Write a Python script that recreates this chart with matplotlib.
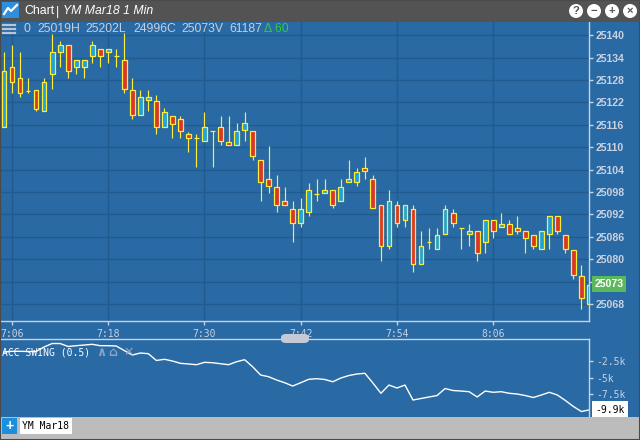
import numpy as np
import matplotlib
matplotlib.use('Agg')
import matplotlib.pyplot as plt
from matplotlib.patches import Rectangle, FancyBboxPatch, Ellipse
from matplotlib.lines import Line2D

plt.rcParams['font.family'] = ['Liberation Sans', 'DejaVu Sans']

# one-minute bars from 7:05 to 8:18
first_bar = '7:05'
opens = [25115.5, 25131.4, 25128.4, 25125.1, 25125.2, 25119.6, 25129.5, 25135.4, 25137.3, 25131.4,
         25131.4, 25134.3, 25136.2, 25135.4, 25134.4, 25133.2, 25125.2, 25118.5, 25122.5, 25122.3,
         25115.5, 25118.3, 25117.5, 25113.4, 25112.4, 25111.6, 25114.3, 25115.3, 25111.3, 25110.5,
         25114.5, 25114.3, 25106.5, 25101.4, 25099.3, 25095.5, 25093.4, 25089.7, 25092.6, 25097.4,
         25097.7, 25098.5, 25095.5, 25100.6, 25100.6, 25104.4, 25101.4, 25094.5, 25083.5, 25094.5,
         25090.5, 25093.4, 25078.7, 25084.6, 25082.7, 25086.7, 25092.3, 25088.3, 25086.7, 25087.5,
         25084.6, 25090.5, 25088.6, 25089.4, 25088.3, 25087.5, 25086.4, 25082.7, 25086.7, 25091.5,
         25086.4, 25082.4, 25075.5, 25068.0]
highs = [25135.4, 25137.3, 25135.4, 25128.4, 25125.2, 25128.4, 25140.3, 25138.4, 25137.3, 25133.2,
         25133.2, 25138.4, 25136.2, 25136.2, 25136.2, 25140.5, 25128.4, 25125.2, 25125.2, 25124.0,
         25120.4, 25118.3, 25118.3, 25114.1, 25113.4, 25119.3, 25114.3, 25118.3, 25118.3, 25116.4,
         25119.3, 25114.3, 25106.5, 25110.2, 25102.5, 25099.3, 25095.5, 25096.3, 25100.3, 25101.4,
         25101.4, 25098.5, 25101.4, 25106.5, 25104.4, 25107.3, 25102.5, 25094.5, 25098.5, 25095.5,
         25094.5, 25094.5, 25087.5, 25088.3, 25088.3, 25094.5, 25093.4, 25088.3, 25089.4, 25087.5,
         25090.5, 25090.5, 25092.3, 25090.5, 25091.5, 25087.5, 25086.4, 25087.5, 25091.5, 25091.5,
         25086.4, 25082.4, 25078.4, 25073.6]
lows = [25115.5, 25124.4, 25123.3, 25124.4, 25119.6, 25119.6, 25125.5, 25131.4, 25128.4, 25129.5,
        25128.4, 25132.4, 25131.4, 25132.4, 25131.4, 25124.4, 25117.5, 25118.5, 25119.6, 25113.4,
        25115.5, 25112.4, 25112.4, 25108.6, 25104.6, 25111.6, 25104.6, 25110.5, 25110.5, 25110.5,
        25111.6, 25106.5, 25095.5, 25097.7, 25092.6, 25094.5, 25084.6, 25088.6, 25091.5, 25095.5,
        25097.7, 25093.7, 25095.5, 25100.6, 25099.5, 25101.4, 25093.7, 25079.5, 25082.7, 25088.6,
        25088.6, 25076.5, 25078.7, 25082.7, 25082.7, 25086.7, 25088.6, 25082.7, 25083.5, 25079.5,
        25081.6, 25085.6, 25088.6, 25086.7, 25086.7, 25081.6, 25082.7, 25082.7, 25082.7, 25086.7,
        25081.6, 25074.7, 25066.7, 25067.8]
closes = [25130.3, 25127.4, 25124.4, 25125.1, 25120.3, 25127.4, 25135.4, 25137.3, 25130.5, 25133.2,
          25133.2, 25137.3, 25134.3, 25136.2, 25134.4, 25125.5, 25118.5, 25123.3, 25123.3, 25115.5,
          25119.3, 25116.3, 25114.4, 25112.4, 25112.4, 25115.3, 25114.3, 25111.6, 25110.5, 25114.3,
          25116.4, 25107.6, 25100.6, 25099.5, 25094.5, 25094.5, 25089.7, 25093.4, 25098.5, 25097.4,
          25098.5, 25094.5, 25099.3, 25101.4, 25103.3, 25103.6, 25093.7, 25083.5, 25095.5, 25089.7,
          25094.5, 25078.7, 25083.5, 25084.6, 25086.4, 25093.4, 25089.7, 25088.3, 25087.5, 25081.6,
          25090.5, 25087.5, 25089.4, 25086.7, 25087.5, 25085.6, 25083.5, 25087.5, 25091.5, 25087.5,
          25082.7, 25075.7, 25069.6, 25073.0]
# Accumulative Swing Index, thousands
acc_swing = [-1.14, -1.03, -1.03, -1.06, -1.06, -0.38, 0.15, 0.15, -0.30, -0.18,
             -0.08, 0.03, -0.18, -0.18, -0.23, -0.91, -1.59, -1.29, -1.39, -2.42,
             -2.24, -2.50, -2.85, -2.95, -3.06, -2.70, -2.76, -2.91, -3.06, -2.61,
             -2.30, -3.36, -4.62, -4.88, -5.38, -5.79, -6.29, -5.79, -5.27, -5.18,
             -5.30, -5.64, -5.08, -4.70, -4.47, -4.36, -5.83, -7.39, -6.14, -6.59,
             -6.14, -8.41, -8.18, -7.95, -7.73, -6.67, -6.97, -7.05, -7.15, -7.95,
             -7.05, -7.24, -7.15, -7.39, -7.50, -7.73, -8.03, -7.65, -7.24, -7.65,
             -8.48, -9.39, -10.15, -9.90]

price_ticks = list(range(25068, 25141, 6))
acc_ticks = [-2.5, -5, -7.5]
acc_tick_labels = ['-2.5k', '-5k', '-7.5k']
time_ticks = ['7:06', '7:18', '7:30', '7:42', '7:54', '8:06']
header_values = ['0', '25019H', '25202L', '24996C', '25073V', '61187']
change_text = 'Δ 60'
last_price = '25073'
last_acc = '-9.9k'
symbol = 'YM Mar18'
study_name = 'ACC SWING (0.5)'

W, H = 640, 440
BG = '#2969a4'
GRID = '#215a8f'
AXIS = '#c9d2e1'
YELLOW = '#ffec3a'
UP = '#1ea3dd'
DOWN = '#d8372b'
GREEN = '#5cb85c'


def to_min(s):
    h, m = s.split(':')
    return int(h) * 60 + int(m)


def fx(px):
    return px / W


def fy(py):
    return 1 - py / H


def box(x0, y0, x1, y1, color, **kw):
    fig.patches.append(Rectangle((fx(x0), fy(y1)), fx(x1) - fx(x0), fy(y0) - fy(y1),
                                 transform=fig.transFigure, facecolor=color,
                                 edgecolor='none', **kw))


fig = plt.figure(figsize=(6.4, 4.4), dpi=100, facecolor=BG)

minutes = to_min(first_bar) + np.arange(len(opens))
o, h, l, c = map(np.array, (opens, highs, lows, closes))

# x scale: 7:06 sits at pixel 12, 8.02 px per minute, plot area 0..589 px
px_per_min = 8.02
x_left = to_min('7:06') - 12 / px_per_min
x_right = to_min('7:06') + (589 - 12) / px_per_min

# ---- price panel
ax = fig.add_axes([0, fy(321), fx(589), fy(22) - fy(321)])
ax.set_facecolor(BG)
ax.set_xlim(x_left, x_right)
ax.set_ylim(25063.5, 25143.5)
ax.set_yticks(price_ticks)
# the last-price tag covers the 25074 label
ax.set_yticklabels(['' if abs(p - float(last_price)) < 3 else str(p) for p in price_ticks])
ax.set_xticks([to_min(t) for t in time_ticks])
ax.set_xticklabels(time_ticks, family='DejaVu Sans Mono', fontsize=7, color=AXIS)
ax.yaxis.tick_right()
ax.tick_params(axis='y', colors=AXIS, length=3, width=1, pad=2, labelsize=7.6)
ax.tick_params(axis='x', colors=AXIS, length=3, width=1, pad=2.5)
for lab in ax.get_yticklabels():
    lab.set_fontweight('bold')
ax.grid(True, color=GRID, lw=1)
ax.set_axisbelow(True)
for side in ('top', 'left'):
    ax.spines[side].set_visible(False)
for side in ('right', 'bottom'):
    ax.spines[side].set_color(AXIS)
    ax.spines[side].set_linewidth(1)

lo = np.minimum(o, c)
hi = np.maximum(o, c)
ax.vlines(minutes, l, h, color=YELLOW, lw=0.85, zorder=2)
ax.bar(minutes, hi - lo, bottom=lo, width=0.6, color=np.where(c > o, UP, DOWN),
       edgecolor=YELLOW, lw=0.9, zorder=3)

# ---- ACC SWING panel
ax2 = fig.add_axes([0, fy(416), fx(589), fy(338.5) - fy(416)])
ax2.set_facecolor(BG)
ax2.set_xlim(x_left, x_right)
ax2.set_ylim(-10.83, 0.91)
ax2.plot(minutes, acc_swing, color='white', lw=1)
ax2.set_xticks([])
ax2.set_yticks(acc_ticks)
ax2.set_yticklabels(acc_tick_labels, family='DejaVu Sans Mono', fontsize=7)
ax2.yaxis.tick_right()
ax2.tick_params(axis='y', colors=AXIS, length=3, width=1, pad=2)
for side in ('bottom', 'left'):
    ax2.spines[side].set_visible(False)
for side in ('right', 'top'):
    ax2.spines[side].set_color(AXIS)
    ax2.spines[side].set_linewidth(1)

fig.text(fx(2), fy(352), study_name, family='DejaVu Sans Mono', fontsize=7,
         color='white', va='center')
for ch, xp in zip(['∧', '⌂', '✕'], [101, 113, 129]):
    fig.text(fx(xp), fy(352), ch, family='DejaVu Sans', fontsize=9, color='#8aa3c2',
             ha='center', va='center', fontweight='bold')

# current value labels
box(592, 276, 626, 292, GREEN)
fig.text(fx(609), fy(284), last_price, color='white', fontsize=7.6, fontweight='bold',
         ha='center', va='center')
box(592, 401, 628, 417, 'white')
fig.text(fx(610), fy(409.5), last_acc, color='black', family='DejaVu Sans Mono',
         fontsize=7, ha='center', va='center')

# scroll handle between panels
fig.patches.append(FancyBboxPatch((fx(281), fy(343)), fx(28), fy(334) - fy(343),
                                  boxstyle='round,pad=0,rounding_size=0.008',
                                  transform=fig.transFigure, facecolor='#c6cad8',
                                  edgecolor='none', zorder=5))

# ---- title bar
box(0, 0, 640, 22, '#535353')
box(2, 2, 19, 18, '#2f8fdc')
fig.lines.append(Line2D([fx(4), fx(8), fx(11), fx(17)], [fy(14), fy(8), fy(11), fy(5)],
                        transform=fig.transFigure, color='white', lw=1.6))
fig.text(fx(24), fy(11.5), 'Chart', color='white', fontsize=8.8, va='center')
fig.text(fx(56), fy(11.5), '|', color='white', fontsize=8.8, va='center')
fig.text(fx(63), fy(11.5), symbol + ' 1 Min', color='white', fontsize=8.8,
         style='italic', va='center')
for ch, xp in zip(['?', '−', '+', '×'], [576, 594, 612, 630]):
    fig.patches.append(Ellipse((fx(xp), fy(11)), fx(14), 14 / H, transform=fig.transFigure,
                               facecolor='white', edgecolor='none'))
    fig.text(fx(xp), fy(11), ch, color='#535353', fontsize=8, fontweight='bold',
             ha='center', va='center')

# header row
for yl in (25, 29, 33):
    fig.lines.append(Line2D([fx(3), fx(15)], [fy(yl), fy(yl)], transform=fig.transFigure,
                            color='#b9c6d8', lw=1.6))
for txt, xp in zip(header_values, [23, 37, 85, 133, 181, 229]):
    fig.text(fx(xp), fy(29.5), txt, color='#c5cfdd', fontsize=8.8, va='center')
fig.text(fx(264), fy(29.5), change_text, color='#2ecc40', fontsize=8.8, va='center')

# ---- bottom tab bar
box(0, 416.5, 640, 440, '#bcbcbc')
box(2, 418, 17, 434, '#1c8fdc')
fig.text(fx(9.5), fy(426), '+', color='white', fontsize=10, fontweight='bold',
         ha='center', va='center')
box(20, 418, 72, 434, 'white')
fig.text(fx(46), fy(426), symbol, color='black', family='DejaVu Sans Mono', fontsize=7,
         ha='center', va='center')

# thin window frame
fig.patches.append(Rectangle((0, 0), 1, 1, transform=fig.transFigure, fill=False,
                             edgecolor='#4a4a4a', lw=1.5))

fig.savefig('out.png', dpi=100, facecolor=fig.get_facecolor())
